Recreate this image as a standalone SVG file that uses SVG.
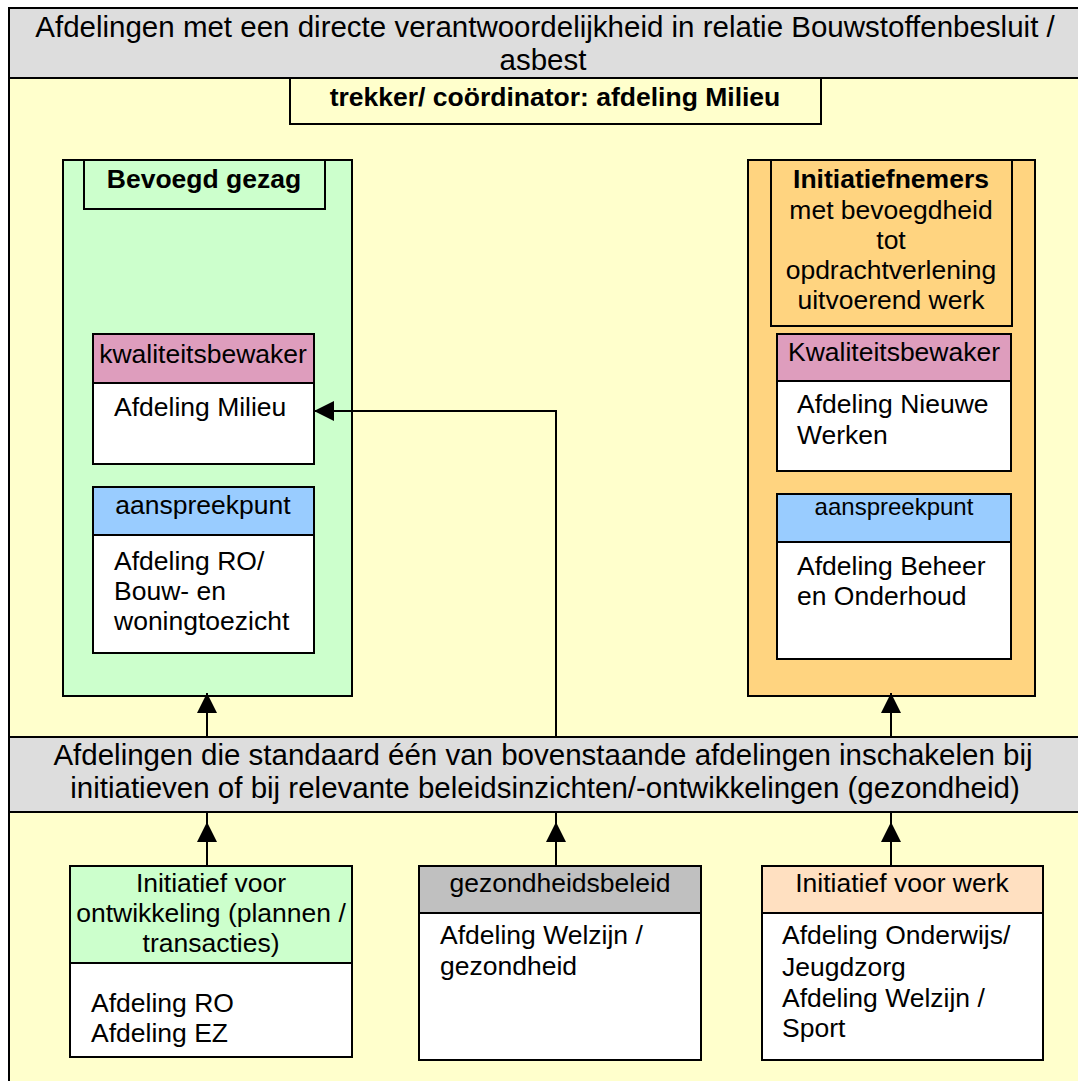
<svg xmlns="http://www.w3.org/2000/svg" width="1078" height="1081" viewBox="0 0 1078 1081">
  <style>
    .box { stroke: #000; stroke-width: 2; }
    .yel { fill: #FFFFCC; }
    .gry { fill: #DDDDDD; }
    .grn { fill: #CCFFCC; }
    .org { fill: #FFD480; }
    .pnk { fill: #DE9DBD; }
    .blu { fill: #99CCFF; }
    .wht { fill: #FFFFFF; }
    .gr2 { fill: #C0C0C0; }
    .pch { fill: #FFE0C1; }
    text { font-family: "Liberation Sans", Arial, sans-serif; fill: #000; }
    .big { font-size: 29.5px; }
    .t { font-size: 26.5px; }
    .tb { font-size: 26.5px; font-weight: bold; }
    .ts { font-size: 24px; }
    .c { text-anchor: middle; }
    .conn { fill: none; stroke: #000; stroke-width: 2; }
  </style>
  <defs>
    <marker id="arrow" viewBox="0 0 20 20" refX="20" refY="10" markerWidth="20" markerHeight="20" markerUnits="userSpaceOnUse" orient="auto">
      <path d="M0,0 L20,10 L0,20 Z" fill="#000"/>
    </marker>
    <marker id="arrowGap" viewBox="0 0 30 20" refX="30" refY="10" markerWidth="30" markerHeight="20" markerUnits="userSpaceOnUse" orient="auto">
      <path d="M0,0 L20,10 L0,20 Z" fill="#000"/>
    </marker>
  </defs>

  <g id="frame">
    <rect class="box yel" x="9" y="8" width="1072" height="1080"/>
  </g>

  <g id="header">
    <rect class="box gry" x="9" y="8" width="1072" height="70"/>
    <text class="big c" x="545" y="37">Afdelingen met een directe verantwoordelijkheid in relatie Bouwstoffenbesluit /</text>
    <text class="big c" x="543" y="70">asbest</text>
  </g>

  <g id="trekker">
    <rect class="box yel" x="290" y="78" width="531" height="46"/>
    <text class="tb c" x="555" y="106">trekker/ coördinator: afdeling Milieu</text>
  </g>

  <g id="bevoegd-gezag">
    <rect class="box grn" x="63" y="160" width="289" height="536"/>
    <rect class="box grn" x="84" y="160" width="241" height="49"/>
    <text class="tb c" x="204" y="188">Bevoegd gezag</text>
  </g>

  <g id="kwaliteitsbewaker-milieu">
    <rect class="box pnk" x="93" y="334" width="221" height="49"/>
    <text class="t c" x="203" y="363">kwaliteitsbewaker</text>
    <rect class="box wht" x="93" y="383" width="221" height="81"/>
    <text class="t" x="114" y="416">Afdeling Milieu</text>
  </g>

  <g id="aanspreekpunt-ro">
    <rect class="box blu" x="93" y="487" width="221" height="48"/>
    <text class="t c" x="203" y="514">aanspreekpunt</text>
    <rect class="box wht" x="93" y="535" width="221" height="118"/>
    <text class="t" x="114" y="570">Afdeling RO/</text>
    <text class="t" x="114" y="600">Bouw- en</text>
    <text class="t" x="114" y="630">woningtoezicht</text>
  </g>

  <g id="initiatiefnemers">
    <rect class="box org" x="748" y="160" width="287" height="536"/>
    <rect class="box org" x="771" y="160" width="241" height="166"/>
    <text class="tb c" x="891" y="188">Initiatiefnemers</text>
    <text class="t c" x="891" y="219">met bevoegdheid</text>
    <text class="t c" x="891" y="249">tot</text>
    <text class="t c" x="891" y="279">opdrachtverlening</text>
    <text class="t c" x="891" y="309">uitvoerend werk</text>
  </g>

  <g id="kwaliteitsbewaker-nieuwe-werken">
    <rect class="box pnk" x="777" y="334" width="234" height="47"/>
    <text class="t c" x="894" y="361">Kwaliteitsbewaker</text>
    <rect class="box wht" x="777" y="381" width="234" height="90"/>
    <text class="t" x="797" y="413">Afdeling Nieuwe</text>
    <text class="t" x="797" y="444">Werken</text>
  </g>

  <g id="aanspreekpunt-beheer">
    <rect class="box blu" x="777" y="494" width="234" height="48"/>
    <text class="ts c" x="894" y="515">aanspreekpunt</text>
    <rect class="box wht" x="777" y="542" width="234" height="117"/>
    <text class="t" x="797" y="575">Afdeling Beheer</text>
    <text class="t" x="797" y="605">en Onderhoud</text>
  </g>

  <g id="standaard-afdelingen">
    <rect class="box gry" x="9" y="737" width="1072" height="75"/>
    <text class="big c" x="543" y="765">Afdelingen die standaard één van bovenstaande afdelingen inschakelen bij</text>
    <text class="big c" x="545" y="798">initiatieven of bij relevante beleidsinzichten/-ontwikkelingen (gezondheid)</text>
  </g>

  <g id="initiatief-ontwikkeling">
    <rect class="box grn" x="70" y="866" width="282" height="97"/>
    <text class="t c" x="211" y="892">Initiatief voor</text>
    <text class="t c" x="211" y="922">ontwikkeling (plannen /</text>
    <text class="t c" x="211" y="952">transacties)</text>
    <rect class="box wht" x="70" y="963" width="282" height="94"/>
    <text class="t" x="91" y="1012">Afdeling RO</text>
    <text class="t" x="91" y="1042">Afdeling EZ</text>
  </g>

  <g id="gezondheidsbeleid">
    <rect class="box gr2" x="419" y="866" width="282" height="47"/>
    <text class="t c" x="560" y="892">gezondheidsbeleid</text>
    <rect class="box wht" x="419" y="913" width="282" height="147"/>
    <text class="t" x="440" y="944">Afdeling Welzijn /</text>
    <text class="t" x="440" y="975">gezondheid</text>
  </g>

  <g id="initiatief-werk">
    <rect class="box pch" x="762" y="866" width="281" height="47"/>
    <text class="t c" x="902" y="892">Initiatief voor werk</text>
    <rect class="box wht" x="762" y="913" width="281" height="147"/>
    <text class="t" x="782" y="944">Afdeling Onderwijs/</text>
    <text class="t" x="782" y="976">Jeugdzorg</text>
    <text class="t" x="782" y="1007">Afdeling Welzijn /</text>
    <text class="t" x="782" y="1037">Sport</text>
  </g>

  <g id="connectors">
    <path class="conn" d="M207,737 V693" marker-end="url(#arrow)"/>
    <path class="conn" d="M891,737 V693" marker-end="url(#arrow)"/>
    <path class="conn" d="M556,737 V411 H314" marker-end="url(#arrow)"/>
    <path class="conn" d="M207,866 V812" marker-end="url(#arrowGap)"/>
    <path class="conn" d="M556,866 V812" marker-end="url(#arrowGap)"/>
    <path class="conn" d="M891,866 V812" marker-end="url(#arrowGap)"/>
  </g>
</svg>
